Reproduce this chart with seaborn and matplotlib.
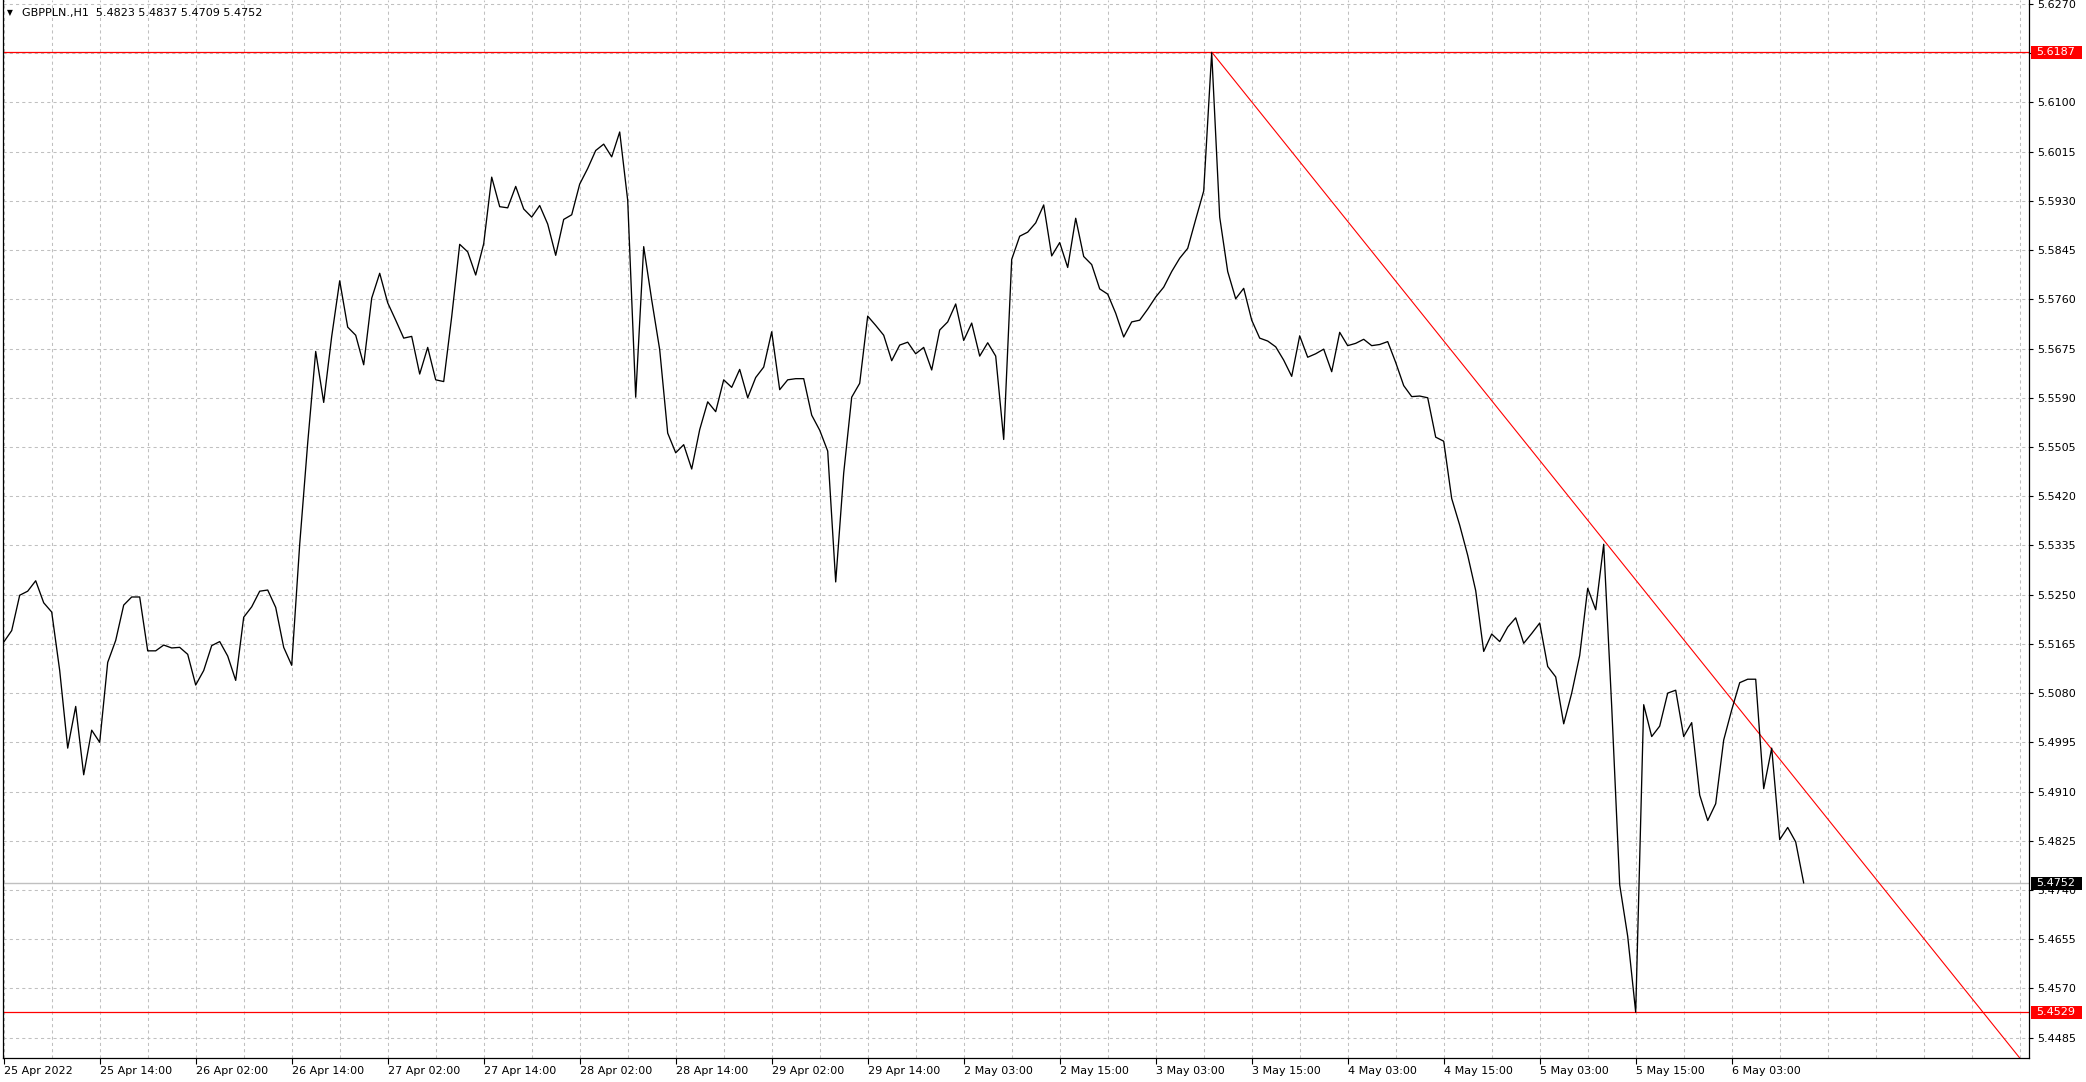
import matplotlib
matplotlib.use("Agg")
import matplotlib.pyplot as plt
import matplotlib.transforms as mtransforms
from matplotlib.patches import Rectangle
import numpy as np
import pandas as pd
import seaborn as sns

# ---------------- data ----------------
symbol = "GBPPLN.,H1"
ohlc_last = [5.4823, 5.4837, 5.4709, 5.4752]

closes = [
    5.5168, 5.5188, 5.5249, 5.5256, 5.5274, 5.5236, 5.5220, 5.5119, 5.4985, 5.5057,
    5.4939, 5.5016, 5.4995, 5.5133, 5.5171, 5.5232, 5.5246, 5.5246, 5.5153, 5.5153,
    5.5163, 5.5158, 5.5159, 5.5147, 5.5094, 5.5119, 5.5162, 5.5169, 5.5144, 5.5102,
    5.5211, 5.5229, 5.5256, 5.5258, 5.5228, 5.5159, 5.5128, 5.5337, 5.5512, 5.5670,
    5.5582, 5.5696, 5.5792, 5.5712, 5.5698, 5.5647, 5.5762, 5.5805, 5.5754, 5.5724,
    5.5693, 5.5696, 5.5631, 5.5677, 5.5621, 5.5618, 5.5730, 5.5855, 5.5842, 5.5802,
    5.5856, 5.5971, 5.5920, 5.5918, 5.5955, 5.5916, 5.5902, 5.5922, 5.5890, 5.5836,
    5.5898, 5.5906, 5.5959, 5.5986, 5.6017, 5.6028, 5.6006, 5.6049, 5.5931, 5.5591,
    5.5851, 5.5759, 5.5673, 5.5529, 5.5495, 5.5509, 5.5467, 5.5535, 5.5583, 5.5566,
    5.5621, 5.5608, 5.5639, 5.5590, 5.5625, 5.5643, 5.5704, 5.5604, 5.5621, 5.5623,
    5.5623, 5.5560, 5.5534, 5.5498, 5.5272, 5.5460, 5.5591, 5.5615, 5.5731, 5.5715,
    5.5698, 5.5654, 5.5681, 5.5686, 5.5666, 5.5677, 5.5638, 5.5707, 5.5721, 5.5752,
    5.5689, 5.5719, 5.5662, 5.5685, 5.5662, 5.5518, 5.5829, 5.5869, 5.5876, 5.5892,
    5.5923, 5.5835, 5.5858, 5.5815, 5.5900, 5.5834, 5.5820, 5.5778, 5.5769, 5.5736,
    5.5695, 5.5721, 5.5724, 5.5743, 5.5764, 5.5781, 5.5808, 5.5831, 5.5848, 5.5898,
    5.5947, 5.6186, 5.5902, 5.5808, 5.5761, 5.5779, 5.5724, 5.5693, 5.5688, 5.5678,
    5.5655, 5.5627, 5.5697, 5.5660, 5.5666, 5.5674, 5.5635, 5.5703, 5.5680, 5.5684,
    5.5691, 5.5680, 5.5682, 5.5687, 5.5651, 5.5611, 5.5592, 5.5593, 5.5590, 5.5522,
    5.5515, 5.5416, 5.5370, 5.5318, 5.5257, 5.5152, 5.5182, 5.5169, 5.5194, 5.5210,
    5.5166, 5.5183, 5.5201, 5.5126, 5.5108, 5.5027, 5.5080, 5.5145, 5.5261, 5.5224,
    5.5337, 5.5057, 5.4749, 5.4660, 5.4529, 5.5060, 5.5005, 5.5023, 5.5080, 5.5085,
    5.5005, 5.5029, 5.4904, 5.4860, 5.4889, 5.4999, 5.5051, 5.5098, 5.5104, 5.5104,
    5.4915, 5.4985, 5.4827, 5.4848, 5.4823, 5.4752,
]

x_label_bars = [0, 12, 24, 36, 48, 60, 72, 84, 96, 108, 120, 132, 144, 156, 168,
                180, 192, 204, 216]
x_labels = ["25 Apr 2022", "25 Apr 14:00", "26 Apr 02:00", "26 Apr 14:00",
            "27 Apr 02:00", "27 Apr 14:00", "28 Apr 02:00", "28 Apr 14:00",
            "29 Apr 02:00", "29 Apr 14:00", "2 May 03:00", "2 May 15:00",
            "3 May 03:00", "3 May 15:00", "4 May 03:00", "4 May 15:00",
            "5 May 03:00", "5 May 15:00", "6 May 03:00"]

y_ticks = [5.6270, 5.6185, 5.6100, 5.6015, 5.5930, 5.5845, 5.5760, 5.5675,
           5.5590, 5.5505, 5.5420, 5.5335, 5.5250, 5.5165, 5.5080, 5.4995,
           5.4910, 5.4825, 5.4740, 5.4655, 5.4570, 5.4485]
y_labels = ["5.6270", "5.6185", "5.6100", "5.6015", "5.5930", "5.5845", "5.5760",
            "5.5675", "5.5590", "5.5505", "5.5420", "5.5335", "5.5250", "5.5165",
            "5.5080", "5.4995", "5.4910", "5.4825", "5.4740", "5.4655", "5.4570",
            "5.4485"]

levels = [5.6187, 5.4529]            # horizontal red lines
trend_x = [151, 252]                 # trend line anchors (bar index)
trend_y = [5.6187, 5.4450]

# ---------------- layout ----------------
W, H = 2086, 1082
sns.set_style("white")
plt.rcParams["font.family"] = ["DejaVu Sans"]

fig = plt.figure(figsize=(W / 100, H / 100), dpi=100)
ax_l, ax_r, ax_b, ax_t = 2.5, 2029.0, 1058.0, 0.0
ax = fig.add_axes([ax_l / W, (H - ax_b) / H, (ax_r - ax_l) / W, (ax_b - ax_t) / H])

df = pd.DataFrame({"bar": np.arange(len(closes)), "close": closes})

grid_kw = dict(color="#c0c0c0", linestyle=(0, (3, 3)), linewidth=0.75)
ax.set_xticks(x_label_bars)
ax.set_xticklabels(x_labels, fontsize=8, ha="left")
ax.set_xticks(np.arange(6, 254, 6), minor=True)
ax.yaxis.tick_right()
ax.set_yticks(y_ticks)
ax.set_yticklabels(y_labels, fontsize=8)
ax.grid(True, which="major", **grid_kw)
ax.grid(True, which="minor", axis="x", **grid_kw)
ax.set_axisbelow(True)

# current price line
ax.axhline(closes[-1], color="#c0c0c0", linewidth=1.0, zorder=1.5)
# red horizontal levels
for lv in levels:
    ax.axhline(lv, color="#ff0000", linewidth=0.9, zorder=2)

sns.lineplot(x=trend_x, y=trend_y, ax=ax, color="#ff0000", linewidth=0.8, zorder=2)
sns.lineplot(data=df, x="bar", y="close", ax=ax, color="black", linewidth=0.95,
             zorder=3, estimator=None)

ax.set_xlim((ax_l - 3.7) / 8.0, (ax_r - 3.7) / 8.0)
ax.set_ylim(5.44499, 5.62769)
ax.set_xlabel("")
ax.set_ylabel("")

ax.tick_params(axis="x", which="major", direction="out", length=4, width=0.8,
               pad=2, colors="black", bottom=True)
ax.tick_params(axis="x", which="minor", length=0)
ax.tick_params(axis="y", direction="out", length=3, width=0.8, pad=3,
               colors="black", right=True, left=False)

for s in ["left", "right", "bottom"]:
    ax.spines[s].set_visible(True)
    ax.spines[s].set_color("black")
    ax.spines[s].set_linewidth(0.9)
ax.spines["top"].set_visible(False)

# price boxes on the right scale
trans = mtransforms.blended_transform_factory(ax.transAxes, ax.transData)
axw = ax_r - ax_l
box_x0 = (2031 - ax_l) / axw
box_w = 51 / axw
box_h = 13 / 5791.0
txt_x = (2036 - ax_l) / axw
for val, col in [(levels[0], "#ff0000"), (levels[1], "#ff0000"), (closes[-1], "black")]:
    ax.add_patch(Rectangle((box_x0, val - box_h / 2), box_w, box_h, transform=trans,
                           facecolor=col, edgecolor="none", clip_on=False, zorder=5))
    ax.text(txt_x, val, f"{val:.4f}", transform=trans, color="white", fontsize=8,
            va="center", ha="left", clip_on=False, zorder=6)

# header
fig.text(6.5 / W, 1 - 12.5 / H, "\u25BC", fontsize=5.5, va="center", ha="left",
         color="black")
fig.text(22.5 / W, 1 - 13.0 / H,
         f"{symbol}  " + " ".join(f"{v:.4f}" for v in ohlc_last),
         fontsize=8, va="center", ha="left", color="black")

fig.savefig("out.png", dpi=100, facecolor="white")
